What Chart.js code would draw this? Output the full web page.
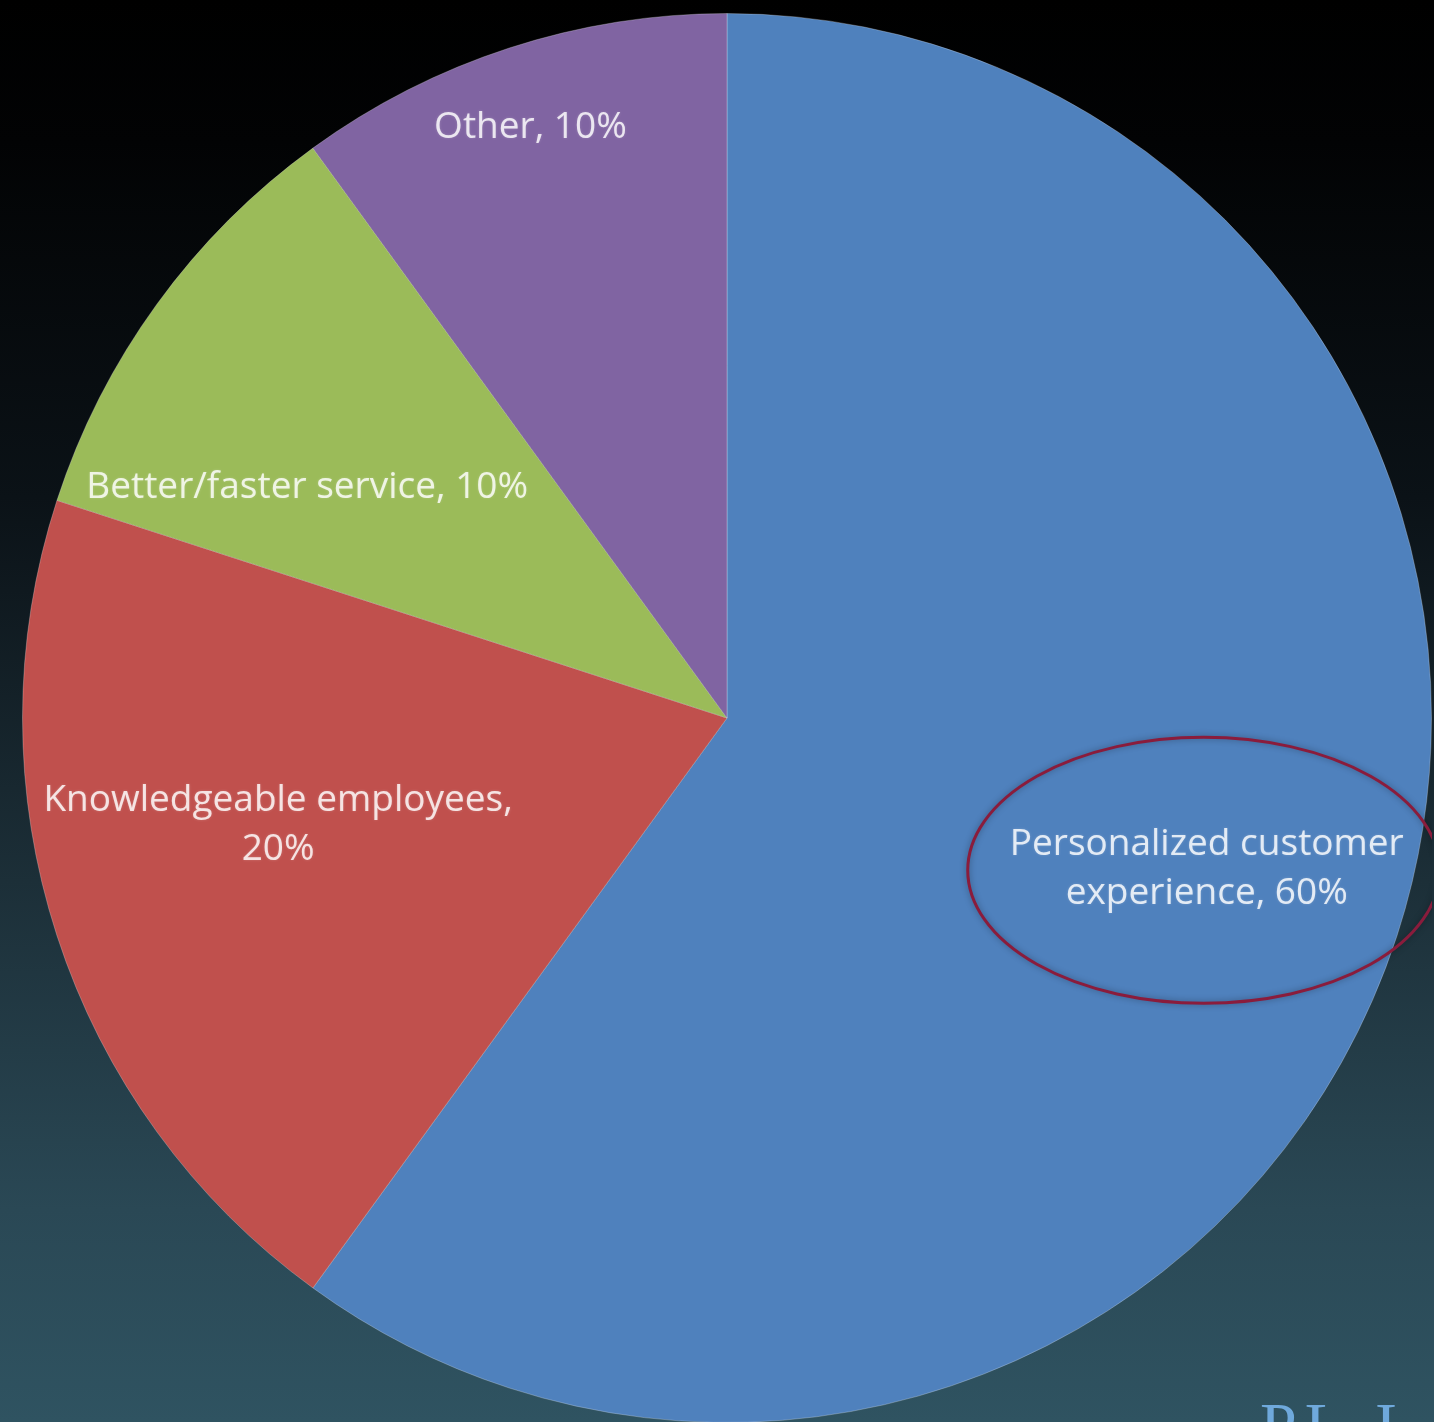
<!DOCTYPE html>
<html>
<head>
<meta charset="utf-8">
<script src="https://cdn.jsdelivr.net/npm/chart.js@4.4.1/dist/chart.umd.min.js"></script>
<style>
  html, body { margin: 0; padding: 0; width: 1434px; height: 1422px; overflow: hidden;
    background: linear-gradient(to bottom, #000000 0%, #020304 10%, #0b1217 35%, #1c2f38 62%, #2a4855 85%, #2f5361 100%); }
  #wrap { position: absolute; left: 22px; top: 13px; width: 1410px; height: 1410px; }
  #footer { position: absolute; left: 1260px; top: 1393px; font-family: "Liberation Serif", serif;
    font-size: 66px; color: #6fa9dc; line-height: 1; white-space: nowrap; letter-spacing: 8px; }
</style>
</head>
<body>
<div id="wrap"><canvas id="c"></canvas></div>
<div id="footer">PL I</div>
<script>
const categories = ["Personalized customer experience", "Knowledgeable employees", "Better/faster service", "Other"];
const values = [60, 20, 10, 10];
const labelLines = [
  ["Personalized customer", "experience, 60%"],
  ["Knowledgeable employees,", "20%"],
  ["Better/faster service, 10%"],
  ["Other, 10%"]
];
const colors = ["#4F81BD", "#C0504D", "#9BBB59", "#8064A2"];
// label placement: [fraction of radius, angle in degrees clockwise from top]
const labelPlacement = [[0.714, 107.5], [0.655, 256.6], [0.68, 298.8], [0.884, 341.6]];

const labelPlugin = {
  id: 'sliceLabels',
  afterDatasetsDraw(chart) {
    const ctx = chart.ctx;
    const meta = chart.getDatasetMeta(0);
    ctx.save();
    ctx.font = '500 37px "Open Sans", sans-serif';
    ctx.textAlign = 'center';
    ctx.textBaseline = 'middle';
    ctx.fillStyle = 'rgba(255,255,255,0.82)';
    ctx.shadowColor = 'rgba(255,255,255,0.25)';
    ctx.shadowBlur = 3;
    meta.data.forEach((arc, i) => {
      const [f, deg] = labelPlacement[i];
      const a = deg * Math.PI / 180;
      const x = arc.x + Math.sin(a) * arc.outerRadius * f;
      const y = arc.y - Math.cos(a) * arc.outerRadius * f;
      const lines = labelLines[i];
      const lh = 49;
      lines.forEach((ln, k) => {
        ctx.fillText(ln, x, y + (k - (lines.length - 1) / 2) * lh);
      });
      if (i === 0) {
        ctx.save();
        ctx.shadowColor = 'rgba(0,0,0,0.35)';
        ctx.shadowBlur = 6;
        ctx.strokeStyle = '#8a1c3c';
        ctx.lineWidth = 3;
        ctx.beginPath();
        ctx.ellipse(x - 3, y + 1, 236, 133, 0, 0, Math.PI * 2);
        ctx.stroke();
        ctx.restore();
      }
    });
    ctx.restore();
  }
};

new Chart(document.getElementById('c'), {
  type: 'pie',
  data: {
    labels: categories,
    datasets: [{
      data: values,
      backgroundColor: colors,
      borderColor: 'rgba(255,255,255,0.25)',
      borderWidth: 1
    }]
  },
  options: {
    responsive: true,
    maintainAspectRatio: false,
    animation: false,
    layout: { padding: 0 },
    plugins: { legend: { display: false }, tooltip: { enabled: false } }
  },
  plugins: [labelPlugin]
});
</script>
</body>
</html>
